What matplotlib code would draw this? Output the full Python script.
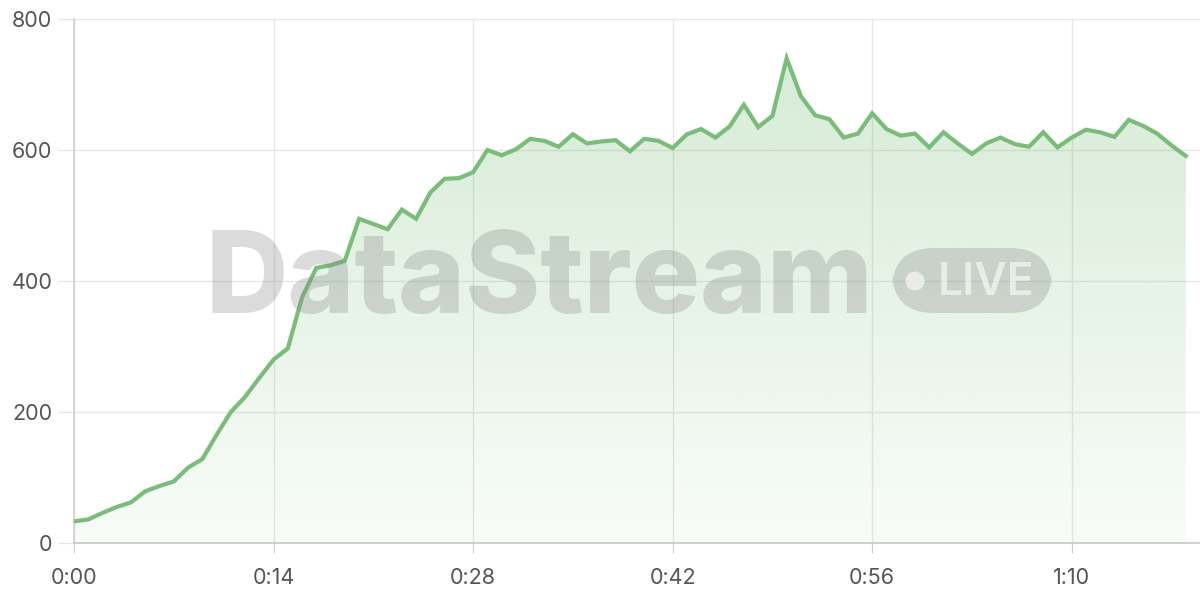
import numpy as np
import matplotlib
matplotlib.use("Agg")
import matplotlib.pyplot as plt
from matplotlib.patches import FancyBboxPatch, Ellipse
from matplotlib.ticker import FuncFormatter

plt.rcParams['font.family'] = ['Inter', 'DejaVu Sans']

# seconds since start, one sample per second
seconds = list(range(79))
values = [33, 36, 46, 55, 62, 79, 87, 94, 115, 128,
          165, 200, 223, 252, 280, 297, 375, 420, 424, 431,
          495, 487, 479, 509, 495, 535, 556, 557, 566, 600,
          592, 601, 617, 614, 605, 624, 610, 613, 615, 598,
          617, 614, 603, 624, 632, 619, 636, 669, 635, 652,
          740, 682, 653, 647, 619, 625, 656, 632, 622, 625,
          604, 627, 610, 594, 610, 619, 609, 605, 627, 604,
          619, 631, 627, 620, 646, 637, 625, 607, 591]
x_ticks = [0, 14, 28, 42, 56, 70]
y_ticks = [0, 200, 400, 600, 800]

line_color = '#78bd78'
grid_color = '#e6e6e6'
text_color = '#555555'

fig = plt.figure(figsize=(12, 6), dpi=100)
ax = fig.add_axes([74 / 1200, 1 - 543 / 600, 1 - 74 / 1200, (543 - 19) / 600])

x = np.array(seconds)
y = np.array(values)

# gradient fill under the line
poly = ax.fill_between(x, y, 0, color='none', lw=0)
grad = np.linspace(0.05, 0.30, 256).reshape(-1, 1)
rgba = np.zeros((256, 1, 4))
rgba[..., 0] = 0x78 / 255
rgba[..., 1] = 0xbd / 255
rgba[..., 2] = 0x78 / 255
rgba[..., 3] = grad
img = ax.imshow(rgba, extent=[0, x.max(), 0, y.max()], origin='lower',
                aspect='auto', zorder=1)
img.set_clip_path(poly.get_paths()[0], transform=ax.transData)

ax.plot(x, y, color=line_color, lw=3, zorder=4, solid_joinstyle='miter')

ax.set_xlim(0, 79)
ax.set_ylim(0, 800)
ax.set_xticks(x_ticks)
ax.set_yticks(y_ticks)
ax.xaxis.set_major_formatter(FuncFormatter(lambda v, p: f"{int(v) // 60}:{int(v) % 60:02d}"))

ax.grid(True, color=grid_color, lw=1, zorder=0)
ax.set_axisbelow(True)
for s in ['top', 'right']:
    ax.spines[s].set_visible(False)
ax.spines['left'].set_color('#d0d0d0')
ax.spines['bottom'].set_color('#c8c8c8')
ax.spines['left'].set_linewidth(1.2)
ax.spines['bottom'].set_linewidth(1.2)
ax.tick_params(axis='y', length=11.5, color=grid_color, labelsize=15.5,
               labelcolor=text_color, pad=4)
ax.tick_params(axis='x', length=7.2, color='#d0d0d0', labelsize=15.5,
               labelcolor=text_color, pad=11)

# watermark
fig.text(539 / 1200, 1 - 313 / 600, 'DataStream', fontsize=82, fontweight=800,
         family=['Inter', 'DejaVu Sans'], color='#888888', alpha=0.3,
         ha='center', va='baseline', zorder=3)
badge = FancyBboxPatch((892 / 1200, 1 - 313 / 600), 160 / 1200, 65 / 600,
                       boxstyle='round,pad=0,rounding_size=0.035',
                       transform=fig.transFigure, facecolor='#888888',
                       alpha=0.3, edgecolor='none', zorder=3,
                       mutation_aspect=2)
fig.add_artist(badge)
fig.add_artist(Ellipse((915 / 1200, 1 - 281 / 600), 19 / 1200, 19 / 600,
                       transform=fig.transFigure, facecolor='white',
                       alpha=0.6, edgecolor='none', zorder=3))
fig.text(986 / 1200, 1 - 295 / 600, 'LIVE', fontsize=32, fontweight=600,
         family=['Inter', 'DejaVu Sans'], color='white', alpha=0.6,
         ha='center', va='baseline', zorder=3)

fig.savefig('out.png', dpi=100)
